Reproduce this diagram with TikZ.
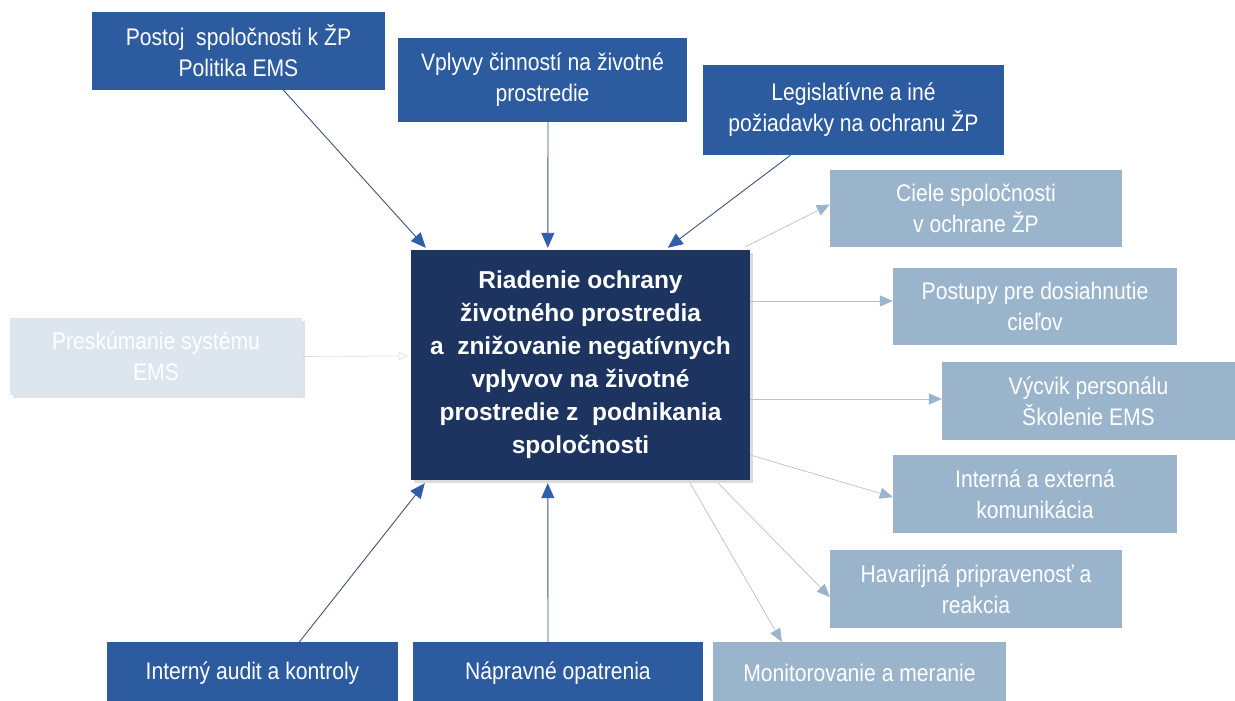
\documentclass[tikz,border=0pt]{standalone}
\usepackage{fontspec}
\setmainfont{Liberation Sans}
\newfontfamily\narrowfont[FakeStretch=0.88]{Liberation Sans}
\usetikzlibrary{calc,arrows.meta,shadows}
\definecolor{navy}{HTML}{1D3461}
\definecolor{midblue}{HTML}{2D5B9F}
\definecolor{lightblue}{HTML}{9AB4CC}
\definecolor{darkline}{HTML}{3F5478}
\definecolor{darkhead}{HTML}{2E5FAA}
\definecolor{lightline}{HTML}{B3C4D3}
\definecolor{paleblue}{HTML}{DDE6EE}
\definecolor{paleline}{HTML}{D5DCE2}
\tikzset{
  base/.style={rectangle, inner sep=0pt, align=center, text=white,
    font=\narrowfont\fontsize{24}{31}\selectfont},
  midbox/.style={base, fill=midblue},
  lightbox/.style={base, fill=lightblue},
  palebox/.style={base, fill=paleblue, drop shadow={shadow xshift=3pt, shadow yshift=-3pt, fill=gray!45}},
  mainbox/.style={rectangle, inner sep=0pt, align=center, text=white, fill=navy,
    font=\bfseries\fontsize{24.5}{33}\selectfont,
    drop shadow={shadow xshift=3pt, shadow yshift=-3pt, fill=gray!55}},
  darkarrow/.style={draw=darkline, line width=0.9pt, -{Triangle[length=15pt,width=13pt,color=darkhead]}},
  lightarrow/.style={draw=lightline, line width=0.7pt, -{Triangle[length=13pt,width=11pt,color=lightblue]}},
  palearrow/.style={draw=paleline, line width=0.6pt, -{Triangle[length=9pt,width=8pt,open,color=paleline]}}
}
\begin{document}
\begin{tikzpicture}[x=1pt,y=-1pt]
\useasboundingbox[fill=white] (0,0) rectangle (1235,701);
% central box
\node[mainbox, minimum width=339pt, minimum height=230pt] (ctr) at (580.5,365)
  {Riadenie ochrany\\životného prostredia\\a\ \ znižovanie negatívnych\\vplyvov na životné\\prostredie z\ \ podnikania\\spoločnosti};
% top inputs
\node[midbox, minimum width=293pt, minimum height=78pt] (postoj) at (238.5,51)
  {Postoj\ \ spoločnosti k ŽP\\Politika EMS};
\node[midbox, minimum width=289pt, minimum height=84pt] (vplyvy) at (542.5,80)
  {Vplyvy činností na životné\\prostredie};
\node[midbox, minimum width=301pt, minimum height=90pt] (legis) at (853.5,110)
  {Legislatívne a iné\\požiadavky na ochranu ŽP};
% right outputs
\node[lightbox, minimum width=292pt, minimum height=77pt] (ciele) at (976,208.5)
  {Ciele spoločnosti\\v ochrane ŽP};
\node[lightbox, minimum width=284pt, minimum height=77pt] (postupy) at (1035,306.5)
  {Postupy pre dosiahnutie\\cieľov};
\node[lightbox, minimum width=293pt, minimum height=78pt] (vycvik) at (1088.5,401)
  {Výcvik personálu\\Školenie EMS};
\node[lightbox, minimum width=284pt, minimum height=78pt] (interna) at (1035,494)
  {Interná a externá\\komunikácia};
\node[lightbox, minimum width=292pt, minimum height=78pt] (havar) at (976,589)
  {Havarijná pripravenosť a\\reakcia};
% bottom
\node[lightbox, minimum width=293pt, minimum height=62pt] (monit) at (859.5,673)
  {Monitorovanie a meranie};
\node[midbox, minimum width=291pt, minimum height=62pt] (audit) at (252.5,673)
  {Interný audit a kontroly};
\node[midbox, minimum width=290pt, minimum height=62pt] (naprav) at (558,673)
  {Nápravné opatrenia};
% left faded
\node[palebox, minimum width=292pt, minimum height=77pt] (presk) at (156,356.5)
  {Preskúmanie systému\\EMS};
% arrows in
\draw[darkarrow] ($(postoj.south)+(45,0)$) -- ($(ctr.north west)+(15,-2)$);
\draw[darkarrow] ($(vplyvy.south)+(5.5,0)$) -- ($(ctr.north west)+(137,-2)$);
\draw[darkarrow] ($(legis.south)+(-63,0)$) -- ($(ctr.north west)+(257,-2)$);
\draw[darkarrow] ($(audit.north)+(47,0)$) -- ($(ctr.south west)+(14,3)$);
\draw[darkarrow] ($(naprav.north)+(-10,0)$) -- ($(ctr.south west)+(137,3)$);
\draw[palearrow] (presk.east) -- ($(ctr.west)+(-3,-9)$);
% arrows out
\draw[lightarrow] ($(ctr.north east)+(-5,-3)$) -- ($(ciele.west)+(0,-4)$);
\draw[lightarrow] ($(ctr.east)+(0,-64)$) -- ($(postupy.west)+(0,-5.5)$);
\draw[lightarrow] ($(ctr.east)+(0,34)$) -- ($(vycvik.west)+(0,-2)$);
\draw[lightarrow] ($(ctr.east)+(0,90)$) -- ($(interna.west)+(0,3)$);
\draw[lightarrow] ($(ctr.south east)+(-32,3)$) -- ($(havar.west)+(0,8)$);
\draw[lightarrow] ($(ctr.south east)+(-60,3)$) -- ($(monit.north west)+(69,0)$);
\end{tikzpicture}
\end{document}
